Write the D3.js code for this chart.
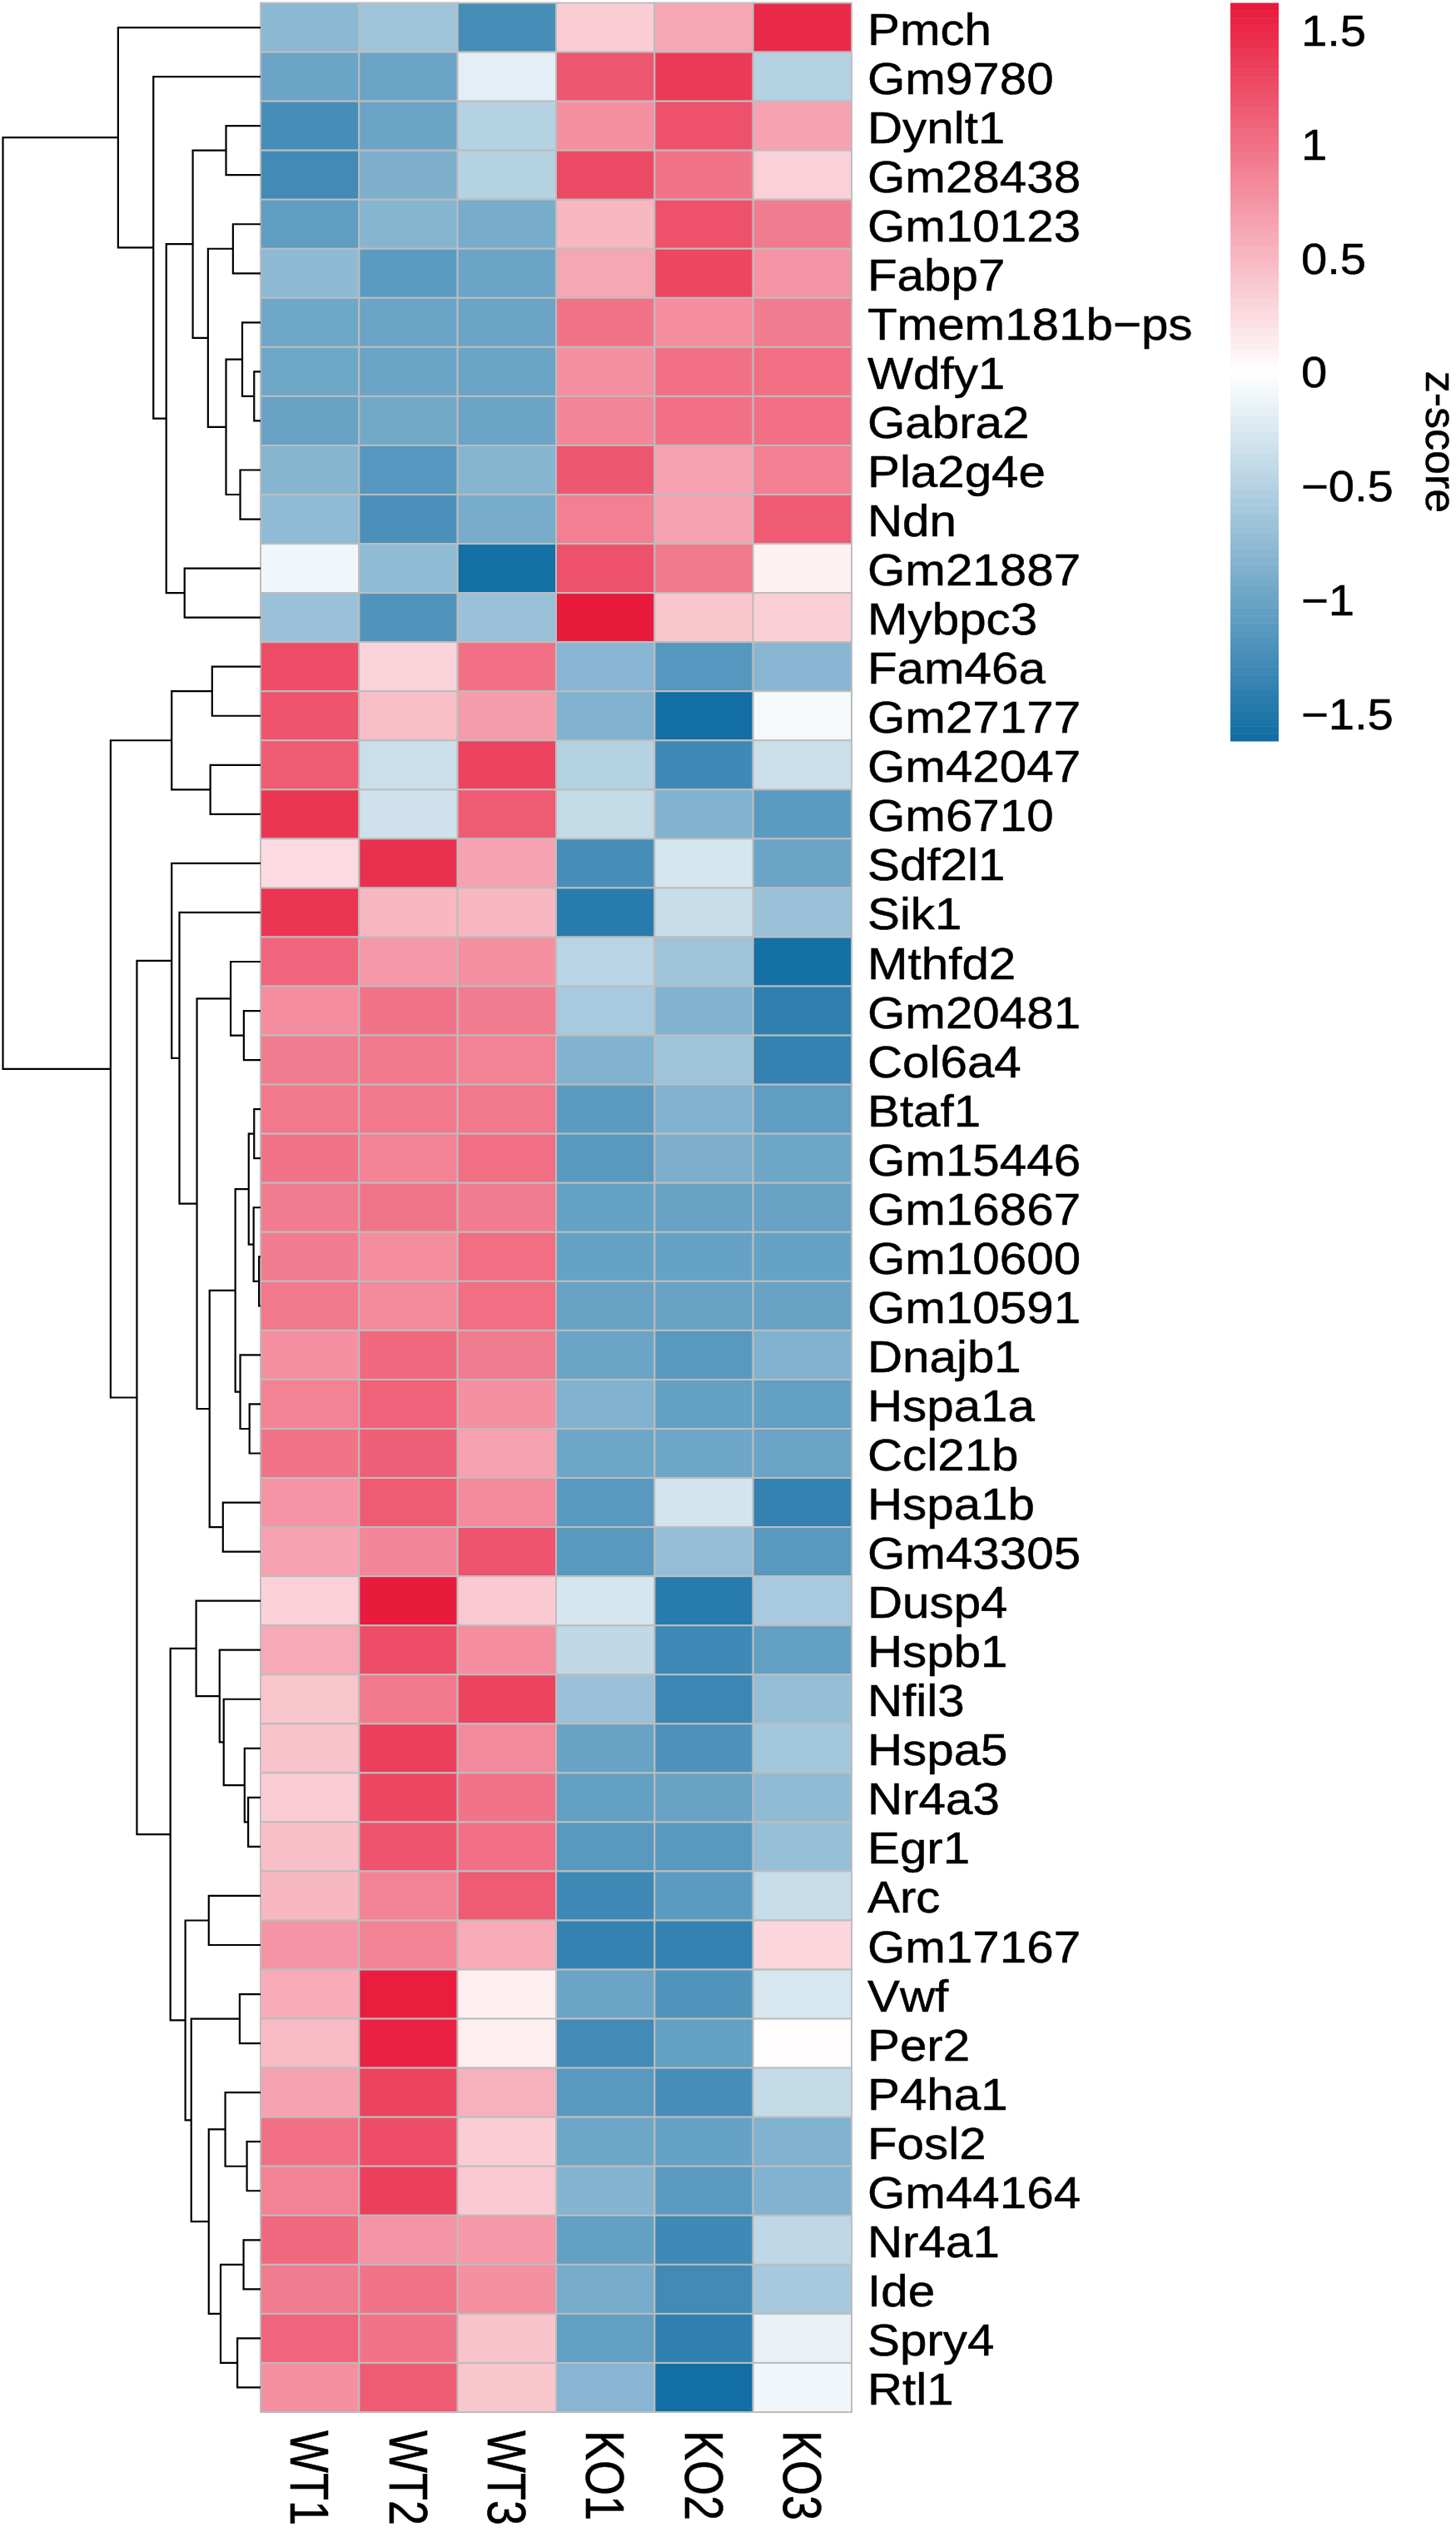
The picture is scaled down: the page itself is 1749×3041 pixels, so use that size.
<!DOCTYPE html>
<html>
<head>
<meta charset="utf-8">
<title>z-score heatmap</title>
<script src="https://cdn.jsdelivr.net/npm/d3@7"></script>
<style>
  body { margin: 0; background: #fff; }
  svg { display: block; }
  text { font-family: "Liberation Sans", Arial, sans-serif; fill: #000; stroke: #000; stroke-width: 0.5px; }
</style>
</head>
<body>
<svg id="chart"></svg>
<script>
const samples = ['WT1', 'WT2', 'WT3', 'KO1', 'KO2', 'KO3'];

const genes = [
  'Pmch', 'Gm9780', 'Dynlt1', 'Gm28438', 'Gm10123', 'Fabp7', 'Tmem181b−ps', 'Wdfy1', 'Gabra2', 'Pla2g4e',
  'Ndn', 'Gm21887', 'Mybpc3', 'Fam46a', 'Gm27177', 'Gm42047', 'Gm6710', 'Sdf2l1', 'Sik1', 'Mthfd2',
  'Gm20481', 'Col6a4', 'Btaf1', 'Gm15446', 'Gm16867', 'Gm10600', 'Gm10591', 'Dnajb1', 'Hspa1a', 'Ccl21b',
  'Hspa1b', 'Gm43305', 'Dusp4', 'Hspb1', 'Nfil3', 'Hspa5', 'Nr4a3', 'Egr1', 'Arc', 'Gm17167',
  'Vwf', 'Per2', 'P4ha1', 'Fosl2', 'Gm44164', 'Nr4a1', 'Ide', 'Spry4', 'Rtl1'
];

// one row per gene, same order as samples
const zscores = [
  [-0.78, -0.65, -1.25, 0.35, 0.62, 1.5],
  [-1.0, -1.0, -0.18, 1.18, 1.38, -0.5],
  [-1.25, -1.0, -0.5, 0.78, 1.22, 0.65],
  [-1.28, -0.88, -0.5, 1.27, 0.98, 0.32],
  [-1.08, -0.82, -0.92, 0.5, 1.22, 0.92],
  [-0.76, -1.1, -1.0, 0.62, 1.3, 0.75],
  [-0.97, -1.0, -1.0, 0.98, 0.8, 0.92],
  [-0.97, -1.0, -1.0, 0.78, 1.0, 1.02],
  [-1.02, -0.95, -1.0, 0.85, 1.0, 1.0],
  [-0.82, -1.15, -0.82, 1.18, 0.65, 0.9],
  [-0.75, -1.22, -0.92, 0.9, 0.65, 1.15],
  [-0.1, -0.75, -1.58, 1.22, 0.95, 0.1],
  [-0.68, -1.18, -0.68, 1.6, 0.4, 0.33],
  [1.25, 0.3, 1.0, -0.8, -1.15, -0.8],
  [1.2, 0.45, 0.7, -0.85, -1.6, -0.07],
  [1.15, -0.35, 1.32, -0.5, -1.3, -0.35],
  [1.42, -0.33, 1.15, -0.4, -0.85, -1.1],
  [0.25, 1.45, 0.65, -1.25, -0.28, -1.0],
  [1.42, 0.5, 0.5, -1.45, -0.38, -0.68],
  [1.08, 0.72, 0.78, -0.47, -0.65, -1.58],
  [0.8, 0.98, 0.92, -0.58, -0.85, -1.4],
  [0.92, 0.95, 0.88, -0.85, -0.65, -1.38],
  [0.95, 0.95, 0.95, -1.1, -0.85, -1.08],
  [0.98, 0.88, 1.02, -1.12, -0.88, -0.98],
  [0.92, 0.97, 0.92, -1.03, -1.02, -1.02],
  [0.92, 0.8, 1.02, -1.03, -1.03, -1.03],
  [0.95, 0.82, 1.02, -1.02, -1.02, -1.02],
  [0.78, 1.05, 0.92, -1.0, -1.12, -0.85],
  [0.88, 1.1, 0.78, -0.85, -1.05, -1.05],
  [0.98, 1.12, 0.65, -0.98, -0.98, -1.0],
  [0.75, 1.15, 0.82, -1.12, -0.3, -1.38],
  [0.65, 0.85, 1.2, -1.12, -0.72, -1.12],
  [0.32, 1.6, 0.38, -0.28, -1.45, -0.58],
  [0.6, 1.25, 0.8, -0.42, -1.3, -1.05],
  [0.4, 0.95, 1.32, -0.68, -1.32, -0.72],
  [0.42, 1.35, 0.82, -1.02, -1.2, -0.62],
  [0.35, 1.3, 0.98, -1.05, -1.02, -0.75],
  [0.45, 1.2, 1.0, -1.12, -1.12, -0.7],
  [0.5, 0.88, 1.15, -1.3, -1.1, -0.38],
  [0.75, 0.88, 0.58, -1.38, -1.38, 0.28],
  [0.58, 1.58, 0.12, -1.0, -1.18, -0.27],
  [0.48, 1.55, 0.12, -1.28, -1.05, 0.02],
  [0.65, 1.32, 0.55, -1.12, -1.25, -0.4],
  [1.0, 1.25, 0.35, -0.98, -1.03, -0.85],
  [0.88, 1.35, 0.38, -0.83, -1.1, -0.85],
  [1.05, 0.75, 0.72, -1.05, -1.3, -0.43],
  [0.92, 0.98, 0.78, -0.92, -1.28, -0.6],
  [1.08, 0.98, 0.42, -1.05, -1.4, -0.15],
  [0.78, 1.15, 0.4, -0.8, -1.6, -0.1]
];

// hclust style merges: [a, b, height], negative = gene number, positive = earlier merge number
const merges = [
  [-8, -9, 0.025], [-7, 1, 0.071], [-10, -11, 0.079], [2, 3, 0.134], [-5, -6, 0.107], [5, 4, 0.204],
  [-3, -4, 0.134], [7, 6, 0.263], [-12, -13, 0.295], [8, 9, 0.366], [-2, 10, 0.416], [-1, 11, 0.553],
  [-14, -15, 0.188], [-16, -17, 0.195], [13, 14, 0.345], [-21, -22, 0.065], [-20, 16, 0.116], [-23, -24, 0.025],
  [-26, -27, 0.006], [-25, 19, 0.027], [18, 20, 0.046], [-29, -30, 0.043], [-28, 22, 0.079], [21, 23, 0.098],
  [-31, -32, 0.146], [24, 25, 0.198], [17, 26, 0.247], [-19, 27, 0.315], [-18, 28, 0.345], [-37, -38, 0.048],
  [-36, 30, 0.062], [-35, 31, 0.143], [-34, 32, 0.159], [-33, 33, 0.25], [-39, -40, 0.201], [-41, -42, 0.081],
  [-44, -45, 0.053], [-43, 37, 0.137], [-46, -47, 0.066], [-48, -49, 0.09], [39, 40, 0.155], [38, 41, 0.201],
  [36, 42, 0.269], [35, 43, 0.292], [34, 44, 0.35], [29, 45, 0.48], [15, 46, 0.582], [12, 47, 1.0]
];

const legendTicks = [1.5, 1, 0.5, 0, -0.5, -1, -1.5];
const colorStops = ['#0f6ca3', '#ffffff', '#e8183a'];

const w = 1749;
const h = 3041;
const heat = { left: 313, right: 1023, top: 3.5, bottom: 2897 };
const legend = { left: 1478, right: 1536, top: 3.5, bottom: 890 };
const zMax = 1.62;
const stretch = 1.08; // reference image is a little wider than tall

const svg = d3.select('#chart').attr('width', w).attr('height', h);

const x = d3.scaleBand().domain(samples).range([heat.left, heat.right]);
const y = d3.scaleBand().domain(genes).range([heat.top, heat.bottom]);
const color = d3.scaleLinear().domain([-zMax, 0, zMax]).range(colorStops).clamp(true);

// heatmap cells
const row = svg.append('g').selectAll('g').data(genes).enter().append('g');

row
  .selectAll('rect')
  .data((g, i) => zscores[i].map((v, j) => ({ gene: g, sample: samples[j], v })))
  .enter()
  .append('rect')
  .attr('x', (d) => x(d.sample))
  .attr('y', (d) => y(d.gene))
  .attr('width', x.bandwidth())
  .attr('height', y.bandwidth())
  .attr('fill', (d) => color(d.v))
  .attr('stroke', '#bdbdbd')
  .attr('stroke-width', 2);

// row labels
svg
  .append('g')
  .attr('transform', `translate(${heat.right}, 0)`)
  .call(d3.axisRight(y).tickSize(0))
  .call((g) => g.select('.domain').remove())
  .selectAll('text')
  .attr('x', 0)
  .attr('dy', '0.38em')
  .attr('transform', `translate(19, 0) scale(${stretch}, 1)`)
  .style('font-size', '54px')
  .style('font-family', '"Liberation Sans"');

// column labels, rotated clockwise
svg
  .append('g')
  .selectAll('text')
  .data(samples)
  .enter()
  .append('text')
  .attr('transform', (d) => `translate(${x(d) + x.bandwidth() / 2}, 2919) scale(1.2, 1) rotate(90)`)
  .attr('dy', '0.35em')
  .style('font-size', '54px')
  .text((d) => d);

// row dendrogram
const depth = d3.scaleLinear().domain([0, 1]).range([heat.left, 3.5]);
const nodes = [];
const place = (id) =>
  id < 0
    ? { px: heat.left, py: y(genes[-id - 1]) + y.bandwidth() / 2 }
    : nodes[id - 1];

merges.forEach(([a, b, height]) => {
  const p = place(a);
  const q = place(b);
  const px = depth(height);
  const py = (p.py + q.py) / 2;
  nodes.push({ px, py, path: `M${p.px},${p.py}H${px}V${q.py}H${q.px}` });
});

svg
  .append('g')
  .selectAll('path')
  .data(nodes)
  .enter()
  .append('path')
  .attr('d', (d) => d.path)
  .attr('fill', 'none')
  .attr('stroke', '#000')
  .attr('stroke-width', 2.2);

// colour legend
const legendY = d3.scaleLinear().domain([-zMax, zMax]).range([legend.bottom, legend.top]);
const legendSteps = d3.range(100).map((i) => -zMax + (i * 2 * zMax) / 100);

svg
  .append('g')
  .selectAll('rect')
  .data(legendSteps)
  .enter()
  .append('rect')
  .attr('x', legend.left)
  .attr('width', legend.right - legend.left)
  .attr('y', (d) => legendY(d + (2 * zMax) / 100))
  .attr('height', (d) => legendY(d) - legendY(d + (2 * zMax) / 100) + 0.5)
  .attr('fill', (d) => color(d + zMax / 100));

svg
  .append('g')
  .attr('transform', `translate(${legend.right}, 0)`)
  .call(d3.axisRight(legendY).tickValues(legendTicks).tickSize(0).tickFormat(d3.format('~g')))
  .call((g) => g.select('.domain').remove())
  .selectAll('text')
  .attr('x', 0)
  .attr('dy', '0.35em')
  .attr('transform', `translate(27, 0) scale(${stretch}, 1)`)
  .style('font-size', '52px')
  .style('font-family', '"Liberation Sans"');

svg
  .append('text')
  .attr('transform', 'translate(1729, 531) rotate(90)')
  .attr('text-anchor', 'middle')
  .attr('dy', '0.3em')
  .style('font-size', '52px')
  .text('z-score');
</script>
</body>
</html>
